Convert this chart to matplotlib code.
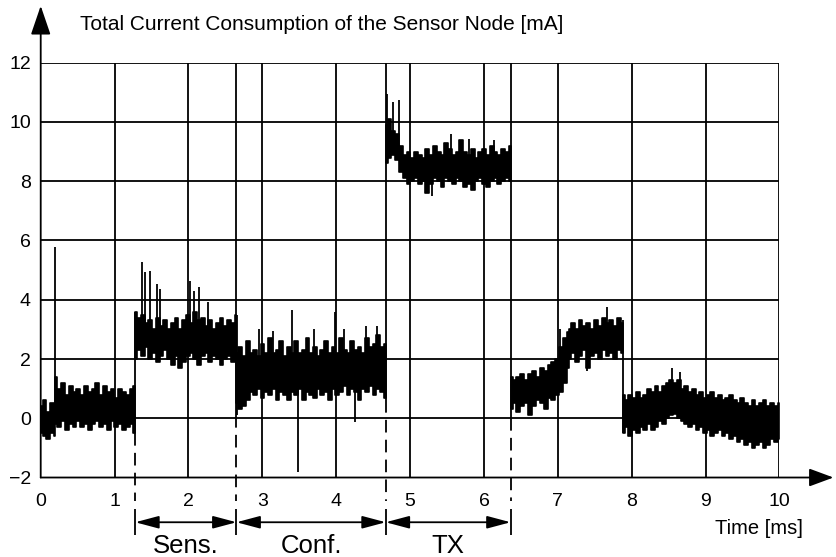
import numpy as np
import matplotlib.pyplot as plt

plt.rcParams['font.family'] = ['Liberation Sans', 'DejaVu Sans']

# current trace read off the scope picture as a band (lower/upper envelope) per phase
# times in ms, current in mA
start_t = (0.0, 0.2)
start_hi = [0.4, 0.6, 0.2, 0.5, 0.4]
start_lo = [-0.5, -0.6, -0.7, -0.5, -0.6]

idle_t = (0.2, 1.28)
idle_hi = [1.4, 1.0, 1.2, 0.8, 1.1, 0.9, 1.0, 0.8, 1.1, 0.9, 1.0,
           1.2, 0.8, 1.1, 0.9, 1.0, 0.7, 1.0, 0.9, 0.8, 1.0, 1.1]
idle_lo = [-0.2, -0.3, -0.1, -0.4, -0.2, -0.3, -0.1, -0.3, -0.2, -0.4, -0.2,
           -0.1, -0.3, -0.2, -0.4, -0.1, -0.3, -0.2, -0.4, -0.3, -0.2, -0.5]

sens_t = (1.28, 2.65)
sens_hi = [3.6, 3.4, 3.5, 3.2, 3.3, 3.0, 3.4, 3.1, 3.3, 3.0, 3.2, 3.4, 3.0, 3.3,
           3.5, 3.2, 3.6, 3.3, 3.4, 3.1, 3.3, 3.0, 3.2, 3.4, 3.1, 3.3, 3.2, 3.5]
sens_lo = [2.0, 2.3, 2.1, 2.4, 2.0, 2.2, 1.9, 2.1, 2.3, 2.0, 1.8, 2.1, 1.7, 1.9,
           2.1, 2.2, 2.0, 1.8, 2.1, 2.2, 1.9, 2.1, 2.0, 1.8, 2.0, 2.1, 1.9, 2.0]

conf_t = (2.65, 4.67)
conf_hi = [2.2, 2.4, 2.1, 2.6, 2.2, 2.3, 2.1, 2.5, 2.2, 2.7, 2.2, 2.3, 2.6, 2.1,
           2.4, 2.2, 2.6, 2.2, 2.3, 2.7, 2.2, 2.4, 2.1, 2.3, 2.6, 2.2, 2.4, 2.2,
           2.7, 2.3, 2.2, 2.6, 2.3, 2.4, 2.2, 2.7, 2.4, 2.5, 2.8, 2.4, 2.5]
conf_lo = [0.5, 0.3, 0.4, 0.6, 0.9, 0.8, 1.0, 0.7, 0.9, 0.8, 1.0, 0.6, 0.9, 0.8,
           0.6, 0.9, 0.8, 1.0, 0.6, 0.9, 0.8, 0.7, 1.0, 0.8, 0.9, 0.6, 1.0, 0.8,
           0.9, 1.1, 0.8, 1.0, 0.9, 0.6, 1.0, 0.9, 1.1, 0.8, 1.0, 0.9, 0.7]

tx_t = (4.67, 6.36)
tx_hi = [9.9, 10.1, 9.7, 9.6, 9.2, 8.9, 9.0, 8.8, 9.0, 8.9, 8.8, 9.1, 8.9, 9.2, 9.0, 8.9, 9.3,
         9.1, 8.9, 9.0, 9.4, 9.0, 8.9, 9.1, 8.8, 9.0, 9.1, 8.9, 9.2, 9.0, 8.9, 9.1, 9.0, 9.2]
tx_lo = [8.6, 8.8, 8.9, 8.7, 8.3, 8.1, 7.9, 8.0, 8.1, 7.9, 8.0, 7.6, 7.9, 8.1, 8.0, 7.8, 8.1,
         8.0, 7.9, 8.1, 8.0, 7.8, 7.9, 7.7, 8.0, 8.1, 7.9, 7.8, 8.0, 8.1, 7.9, 8.0, 8.1, 8.0]

post1_t = (6.36, 7.15)
post1_hi = [1.4, 1.3, 1.4, 1.5, 1.3, 1.5, 1.6, 1.4, 1.7, 1.6, 1.8, 1.9, 2.0, 2.4, 2.7, 2.9]
post1_lo = [0.3, 0.5, 0.2, 0.4, 0.5, 0.1, 0.4, 0.6, 0.5, 0.3, 0.7, 0.6, 0.8, 0.9, 1.2, 1.7]

post2_t = (7.15, 7.88)
post2_hi = [3.0, 3.2, 3.0, 3.3, 3.1, 3.2, 3.0, 3.3, 3.1, 3.4, 3.2, 3.3, 3.1, 3.4, 3.2]
post2_lo = [2.0, 2.2, 1.9, 2.1, 2.3, 1.7, 2.1, 2.2, 2.0, 2.3, 2.1, 2.2, 2.0, 2.3, 2.2]

sleep_t = (7.88, 10.0)
sleep_hi = [0.8, 0.6, 0.8, 0.7, 0.9, 0.7, 0.8, 1.0, 0.9, 1.1, 0.9, 1.1, 1.2, 1.3, 1.2,
            1.3, 1.0, 1.1, 0.9, 1.0, 0.8, 0.9, 0.7, 0.8, 0.9, 0.7, 0.8, 0.6, 0.7, 0.8,
            0.6, 0.5, 0.7, 0.5, 0.4, 0.6, 0.4, 0.5, 0.6, 0.4, 0.5, 0.4, 0.5]
sleep_lo = [-0.5, -0.3, -0.6, -0.4, -0.5, -0.3, -0.4, -0.2, -0.4, -0.3, -0.1, -0.2, 0.0,
            0.1, 0.15, 0.0, -0.1, -0.2, -0.3, -0.2, -0.4, -0.3, -0.5, -0.4, -0.6, -0.5,
            -0.4, -0.6, -0.5, -0.7, -0.6, -0.8, -0.7, -0.9, -0.8, -1.0, -0.9, -0.8, -1.0,
            -0.9, -0.7, -0.8, -0.7]

segments = [(start_t, start_hi, start_lo), (idle_t, idle_hi, idle_lo),
            (sens_t, sens_hi, sens_lo), (conf_t, conf_hi, conf_lo),
            (tx_t, tx_hi, tx_lo), (post1_t, post1_hi, post1_lo),
            (post2_t, post2_hi, post2_lo), (sleep_t, sleep_hi, sleep_lo)]

# single needles and step edges
spike_t = [0.20, 1.28, 1.37, 1.41, 1.48, 1.57, 1.61, 2.02, 2.07, 2.14, 2.27, 2.66,
           2.95, 3.15, 3.40, 3.48, 3.70, 3.99, 4.10, 4.25, 4.40, 4.55, 4.69, 4.77,
           4.85, 5.29, 5.55, 5.80, 6.13, 7.03, 7.39, 7.66, 7.88, 8.54, 8.65]
spike_lo = [-0.2, -0.5, 3.0, 3.0, 3.0, 3.0, 3.0, 3.0, 3.0, 3.0, 3.0, 0.1,
            2.0, 2.0, 2.0, -1.82, 2.0, 2.0, 2.0, -0.13, 2.0, 2.0, 9.0, 9.0,
            9.0, 7.5, 8.8, 8.8, 8.8, 1.5, 1.6, 2.8, -0.5, 0.6, 0.6]
spike_hi = [5.78, 3.6, 5.26, 4.92, 4.98, 4.53, 4.37, 4.64, 4.30, 4.42, 3.91, 3.5,
            3.0, 2.95, 3.66, 1.0, 3.0, 3.58, 3.0, 1.0, 3.1, 3.1, 10.96, 10.66,
            10.74, 8.2, 9.6, 9.43, 9.4, 3.02, 2.2, 3.74, 3.3, 1.68, 1.55]

phase_edges = [1.28, 2.65, 4.67, 6.36]
phase_floor = [-0.5, 0.1, 0.6, 0.0]
phase_names = ['Sens.', 'Conf.', 'TX']

x_ticks = list(range(0, 11))
y_ticks = list(range(-2, 13, 2))

fig = plt.figure(figsize=(8.36, 5.57), dpi=100)
ax = fig.add_axes([0.0487, 0.1427, 0.8837, 0.7447])
ax.set_xlim(0, 10)
ax.set_ylim(-2, 12)
for s in ax.spines.values():
    s.set_visible(False)

# grid
ax.hlines(y_ticks[1:], 0, 10, color='black', lw=1.3, zorder=1)
ax.vlines(x_ticks[1:], -2, 12, color='black', lw=1.3, zorder=1)
ax.vlines(phase_edges[1:], phase_floor[1:], 12, color='black', lw=1.3, zorder=1)

# signal
for (t0, t1), hi, lo in segments:
    t = np.linspace(t0, t1, len(hi))
    ax.fill_between(t, lo, hi, step='mid', color='black', lw=1.2, zorder=3)
ax.vlines(spike_t, spike_lo, spike_hi, color='black', lw=1.3, zorder=3)

# phase markers below the plot
for e, f in zip(phase_edges, phase_floor):
    ax.plot([e, e], [f, -2.8], color='black', lw=1.3, dashes=(7, 4), clip_on=False)
ax.vlines(phase_edges, -3.05, -3.95, color='black', lw=1.3, clip_on=False)
for i, name in enumerate(phase_names):
    a, b = phase_edges[i], phase_edges[i + 1]
    ax.annotate('', xy=(a, -3.51), xytext=(b, -3.51),
                arrowprops=dict(arrowstyle='<|-|>,head_length=1.2,head_width=0.32',
                                mutation_scale=12, color='black', lw=1.3,
                                shrinkA=0, shrinkB=0),
                annotation_clip=False)
    ax.text((a + b) / 2, -4.3, name, ha='center', va='center', fontsize=18.5,
            clip_on=False)

# axes with arrow heads
ax.annotate('', xy=(0, 13.92), xytext=(0, -2),
            arrowprops=dict(arrowstyle='-|>,head_length=1.2,head_width=0.41',
                            mutation_scale=15, color='black', lw=1.3,
                            shrinkA=0, shrinkB=0),
            annotation_clip=False)
ax.annotate('', xy=(10.73, -2), xytext=(0, -2),
            arrowprops=dict(arrowstyle='-|>,head_length=1.0,head_width=0.37',
                            mutation_scale=15, color='black', lw=1.3,
                            shrinkA=0, shrinkB=0),
            annotation_clip=False)

ax.set_xticks(x_ticks)
ax.set_yticks(y_ticks)
ax.tick_params(length=0, labelsize=14)
ax.tick_params(axis='x', pad=11)
ax.tick_params(axis='y', pad=7)

fig.text(80 / 836, 1 - 25 / 557, 'Total Current Consumption of the Sensor Node [mA]',
         ha='left', va='center', fontsize=15)
fig.text(759 / 836, 1 - 528 / 557, 'Time [ms]', ha='center', va='center', fontsize=14.5)

fig.savefig('out.png', dpi=100)
